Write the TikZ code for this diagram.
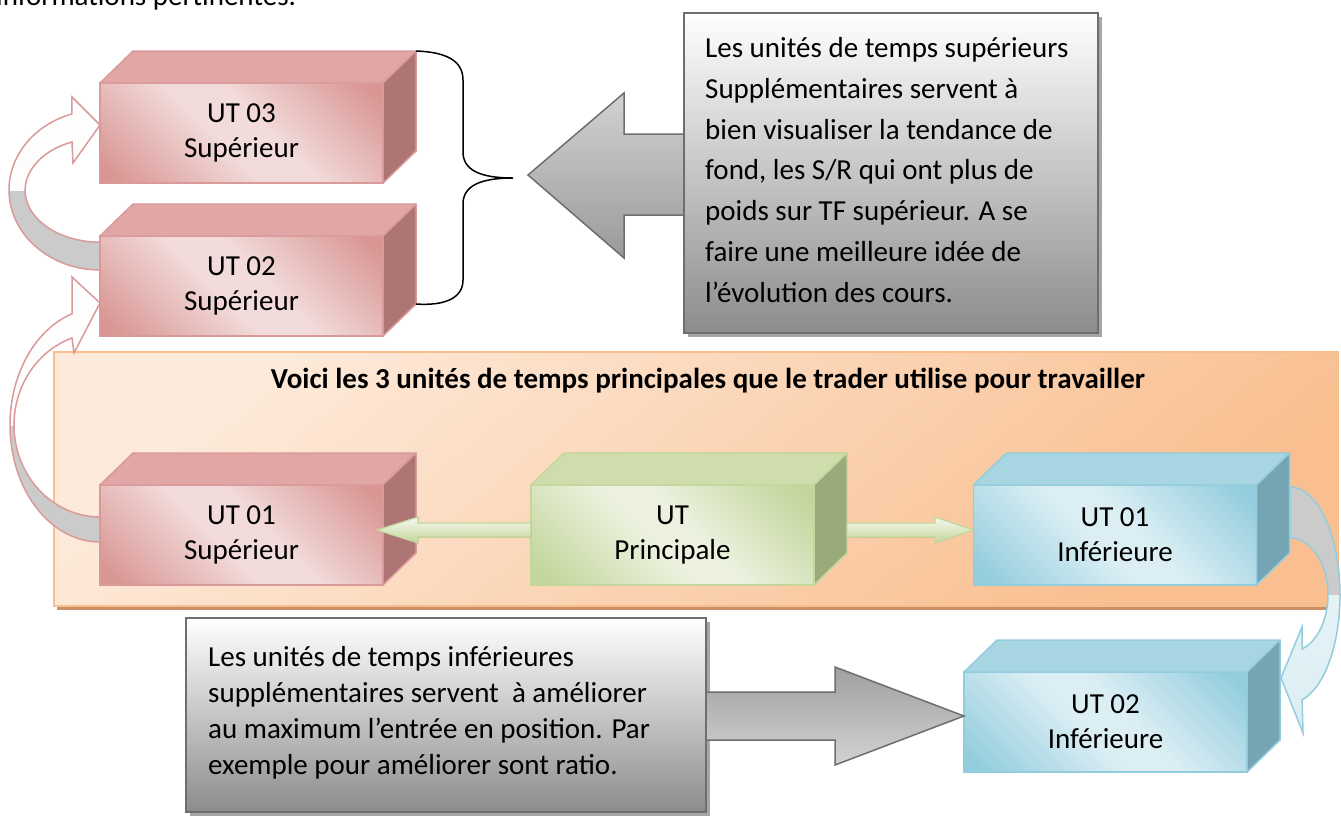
\documentclass[tikz,border=0pt]{standalone}
\usepackage{fontspec}
\setmainfont{Carlito}
\usetikzlibrary{calc}
\definecolor{pkL}{HTML}{F2DCDB}
\definecolor{pkD}{HTML}{D99694}
\definecolor{pkTop}{HTML}{E0A7A6}
\definecolor{pkSide}{HTML}{AD7574}
\definecolor{pkLine}{HTML}{DA9A99}
\definecolor{grL}{HTML}{EBF1DE}
\definecolor{grD}{HTML}{C3D69B}
\definecolor{grTop}{HTML}{CFDDAC}
\definecolor{grSide}{HTML}{9BAA7B}
\definecolor{grLine}{HTML}{C3D69B}
\definecolor{blL}{HTML}{DBEEF4}
\definecolor{blD}{HTML}{93CDDD}
\definecolor{blTop}{HTML}{A8D5E2}
\definecolor{blSide}{HTML}{75A5B2}
\definecolor{blLine}{HTML}{93CDDD}
\definecolor{orL}{HTML}{FDEADA}
\definecolor{orD}{HTML}{F9BF90}
\definecolor{orLine}{HTML}{F9BE8E}
\definecolor{orShadow}{HTML}{C98F66}
\definecolor{gyLine}{HTML}{6E6E6E}
\definecolor{gyD}{HTML}{8C8C8C}
\definecolor{gyArrL}{HTML}{D2D2D2}
\definecolor{gyArrD}{HTML}{9A9A9A}
\definecolor{gyShadow}{HTML}{A6A6A6}
\definecolor{tailGrey}{HTML}{CBCBCB}
\pgfdeclarehorizontalshading{pkface}{100bp}{color(0bp)=(pkD); color(18bp)=(pkD); color(45bp)=(pkL); color(55bp)=(pkL); color(82bp)=(pkD); color(100bp)=(pkD)}
\pgfdeclarehorizontalshading{grface}{100bp}{color(0bp)=(grD); color(18bp)=(grD); color(45bp)=(grL); color(55bp)=(grL); color(82bp)=(grD); color(100bp)=(grD)}
\pgfdeclarehorizontalshading{blface}{100bp}{color(0bp)=(blD); color(18bp)=(blD); color(45bp)=(blL); color(55bp)=(blL); color(82bp)=(blD); color(100bp)=(blD)}
\newcommand\drawcube[5]{%
  \node[face, draw=#4Line, shading=#4face, shading angle=45] (#1) at (#2,#3) {#5};
  \filldraw[fill=#4Top, draw=#4Line, line width=1.5pt, line join=round] (#1.north west) -- ++(33,-32) -- ++(283,0) -- (#1.north east) -- cycle;
  \filldraw[fill=#4Side, draw=#4Line, line width=1.5pt, line join=round] (#1.north east) -- ++(33,-32) -- ++(0,100) -- (#1.south east) -- cycle;
}
\newcommand\curvA{(100,270) arc[start angle=90,end angle=252,x radius=91,y radius=80] -- (72,97) -- (100,125) -- (73,163) -- (72,142) arc[start angle=248,end angle=90,x radius=75,y radius=52] -- cycle}
\newcommand\curvB{(100,542) arc[start angle=90,end angle=252,x radius=90,y radius=117] -- (72,277) -- (100,303) -- (74,353) -- (72,338) arc[start angle=251,end angle=90,x radius=86,y radius=92] -- cycle}
\newcommand\curvC{(1290,487) arc[start angle=270,end angle=436,x radius=50,y radius=108] -- (1303,733) -- (1281,678) -- (1302,627) -- (1302,649) arc[start angle=71.6,end angle=-90,x radius=38,y radius=57] -- cycle}
\begin{document}
\begin{tikzpicture}[x=1pt,y=-1pt]
\useasboundingbox (0,0) rectangle (1341,815);
\tikzset{
  face/.style={line width=1.5pt, minimum width=283pt, minimum height=100pt, inner sep=0pt, outer sep=0pt, align=center, font=\fontsize{29}{35}\selectfont},
  bodytext/.style={inner sep=0pt, align=left},
  greyarrow/.style={draw=gyLine, line width=1.5pt, line join=miter},
  greenarrow/.style={draw=grLine, line width=1.2pt, top color=white!50!grL, bottom color=grD},
  textbox/.style={draw=gyLine, line width=1.5pt, top color=white, bottom color=gyD, inner sep=0pt, outer sep=0pt, anchor=north west},
}
% cut text from the page above
\node[anchor=base west, inner sep=0pt, font=\fontsize{29}{35}\selectfont] (prev) at (-4,5) {informations pertinentes.};

% orange panel
\fill[orShadow] (57,606) rectangle (1340,610);
\node[draw=orLine, line width=1.5pt, top color=orL, bottom color=orD, shading angle=40, minimum width=1284pt, minimum height=254pt, anchor=north west, inner sep=0pt, outer sep=0pt] (panel) at (54,352) {};
\node[anchor=base, inner sep=0pt, font=\bfseries\fontsize{29}{35}\selectfont] (title) at (708,388) {Voici les 3 unités de temps principales que le trader utilise pour travailler};

% curved arrows
\begin{scope}\clip (0,190) rectangle (110,300); \fill[tailGrey] \curvA; \end{scope}
\begin{scope}\clip (0,60) rectangle (110,190); \fill[top color=white, bottom color=white!85!pkL] \curvA; \end{scope}
\draw[draw=pkLine, line width=1.5pt, line join=miter] \curvA;
\begin{scope}\clip (0,425) rectangle (110,560); \fill[tailGrey] \curvB; \end{scope}
\begin{scope}\clip (0,260) rectangle (110,425); \fill[top color=white, bottom color=white!85!pkL] \curvB; \end{scope}
\draw[draw=pkLine, line width=1.5pt, line join=miter] \curvB;
\begin{scope}\clip (1250,470) rectangle (1345,595); \fill[tailGrey] \curvC; \end{scope}
\begin{scope}\clip (1250,595) rectangle (1345,760); \fill[top color=white!50!blL, bottom color=blL] \curvC; \end{scope}
\draw[draw=blLine, line width=1.5pt, line join=miter] \curvC;

% cubes
\drawcube{ut3}{241.5}{133}{pk}{UT 03\\Supérieur}
\drawcube{ut2}{241.5}{286}{pk}{UT 02\\Supérieur}
\drawcube{ut1s}{241.5}{535}{pk}{UT 01\\Supérieur}
\drawcube{utp}{672.5}{535}{gr}{UT\\Principale}
\drawcube{ut1i}{1115}{535}{bl}{UT 01\\Inférieure}
\drawcube{ut2i}{1105.5}{722}{bl}{UT 02\\Inférieure}

% green arrows
\coordinate (gl) at ($(utp.west)+(0,-5)$);
\coordinate (gr) at ($(utp.east)+(33,-5)$);
\filldraw[greenarrow] ($(gl)+(0,-7)$) -- (418,523) -- (418,517) -- (377,530) -- (418,543) -- (418,537) -- ($(gl)+(0,7)$) -- cycle;
\filldraw[greenarrow] ($(gr)+(0,-7)$) -- (935,523) -- (935,517) -- (ut1i.west|-gr) -- (935,543) -- (935,537) -- ($(gr)+(0,7)$) -- cycle;

% brace
\coordinate (brtop) at ($(ut3.north east)+(33,-32)$);
\coordinate (brbot) at ($(ut2.north east)+(33,-32)+(0,100)$);
\coordinate (brtip) at (513,178);
\draw[line width=1.5pt] (brtop) .. controls (445,52) and (463,60) .. (463,80) -- (463,152) .. controls (463,170) and (480,178) .. (brtip) .. controls (480,178) and (463,186) .. (463,204) -- (463,280) .. controls (463,298) and (445,306) .. (brbot);

% upper explanation
\fill[gyShadow] (688,17) rectangle (1102,337);
\filldraw[greyarrow, top color=gyArrL, bottom color=gyArrD] (528,175) -- (624,93) -- (624,134) -- (690,134) -- (690,215) -- (624,215) -- (624,258) -- cycle;
\node[textbox, minimum width=414pt, minimum height=320pt] (boxA) at (684,13) {};
\node[bodytext, anchor=west, font=\fontsize{29}{40.7}\selectfont] (textA) at ($(boxA.west)+(21,-3)$) {Les unités de temps supérieurs\\Supplémentaires servent à\\bien visualiser la tendance de\\fond, les S/R qui ont plus de\\poids sur TF supérieur. A se\\faire une meilleure idée de\\l’évolution des cours.};

% lower explanation
\fill[gyShadow] (190,622) rectangle (710,816);
\node[textbox, minimum width=520pt, minimum height=194pt] (boxB) at (186,618) {};
\filldraw[greyarrow, top color=gray!75, bottom color=gray!35] (boxB.east|-0,692) -- (835,692) -- (835,667) -- (ut2i.west|-0,716) -- (835,765) -- (835,740) -- (boxB.east|-0,740) -- cycle;
\node[bodytext, anchor=west, font=\fontsize{29}{36}\selectfont] (textB) at ($(boxB.west)+(22,-2)$) {Les unités de temps inférieures\\supplémentaires servent\ \ à améliorer\\au maximum l’entrée en position. Par\\exemple pour améliorer sont ratio.};
\end{tikzpicture}
\end{document}
